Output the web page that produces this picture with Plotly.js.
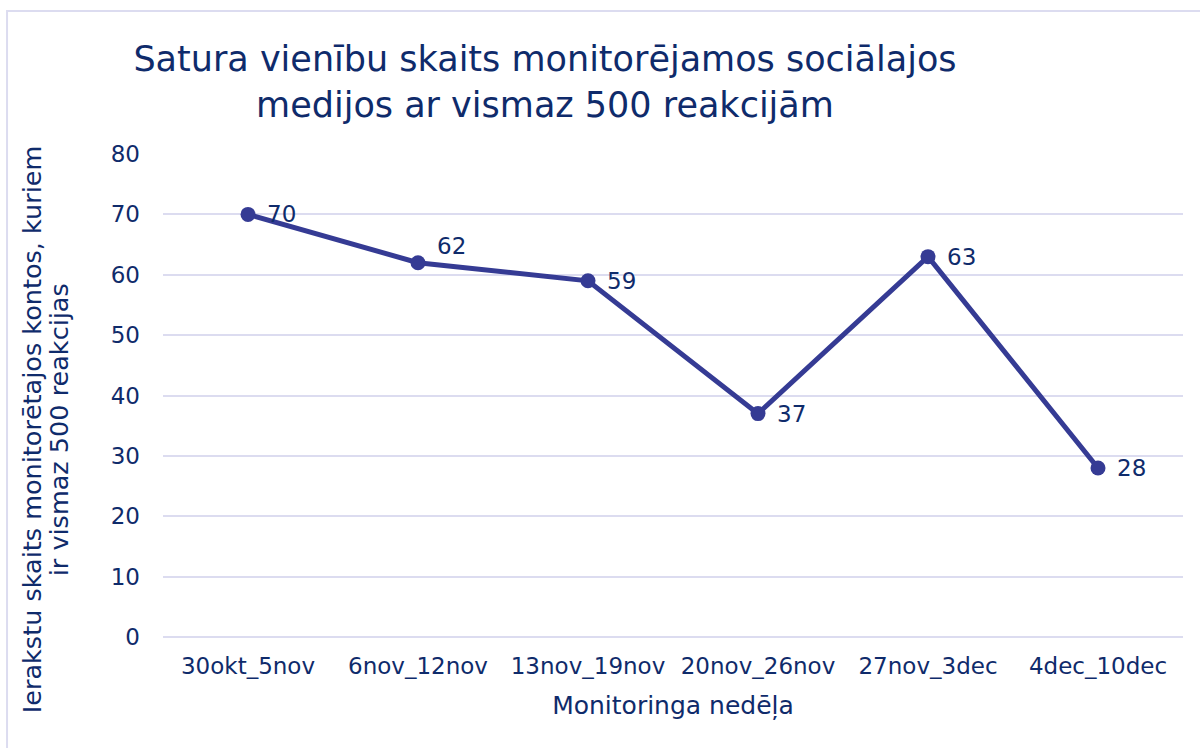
<!DOCTYPE html>
<html>
<head>
<meta charset="utf-8">
<script src="https://cdn.plot.ly/plotly-3.0.1.min.js"></script>
<style>
  body { margin: 0; background: #fff; }
  #chart { width: 1200px; height: 748px; }
</style>
</head>
<body>
<div id="chart"></div>
<script>
// ── Data ──
const weeks = ["30okt_5nov", "6nov_12nov", "13nov_19nov", "20nov_26nov", "27nov_3dec", "4dec_10dec"];
const counts = [70, 62, 59, 37, 63, 28];
const labelLift = [0, 17, 0, 0, 0, 0];   // only "62" sits above its point
const yTitleLines = ["Ierakstu skaits monitorētajos kontos, kuriem", "ir vismaz 500 reakcijas"];

const navy = "#0f2b6b";
const lineColor = "#353b94";
const gridColor = "#dcdcf0";
const font = "DejaVu Sans, sans-serif";

const trace = {
    x: weeks,
    y: counts,
    type: "scatter",
    mode: "lines+markers",
    line: { color: lineColor, width: 5 },
    marker: { color: lineColor, size: 15 },
    cliponaxis: false,
    hoverinfo: "none"
};

// value labels right of each point
const valueLabels = weeks.map((w, i) => ({
    x: w, y: counts[i],
    xref: "x", yref: "y",
    text: String(counts[i]),
    showarrow: false,
    xanchor: "left", yanchor: "middle",
    xshift: 17, yshift: labelLift[i],
    font: { family: font, size: 23, color: navy }
}));

// y title as two rotated lines, set a bit tighter than Plotly's line spacing
const yTitle = yTitleLines.map((t, i) => ({
    text: t,
    textangle: -90,
    xref: "paper", yref: "paper",
    x: [-0.129, -0.1025][i], y: 0.429,
    xanchor: "center", yanchor: "middle",
    showarrow: false,
    font: { family: font, size: 25.5, color: navy }
}));

const layout = {
    width: 1200,
    height: 748,
    margin: { l: 163, r: 17, t: 154, b: 111 },
    paper_bgcolor: "#fff",
    plot_bgcolor: "#fff",
    showlegend: false,
    font: { family: font, color: navy },
    title: {
        text: "Satura vienību skaits monitorējamos sociālajos<br>medijos ar vismaz 500 reakcijām",
        font: { family: font, size: 35, color: navy },
        xref: "paper", x: 0.3745, xanchor: "center",
        yref: "container", y: 0.905, yanchor: "top"
    },
    xaxis: {
        type: "category",
        range: [-0.5, 5.5],
        showgrid: false,
        showline: false,
        zeroline: false,
        tickfont: { size: 23, color: navy },
        ticklabelstandoff: 13,
        title: { text: "Monitoringa nedēļa", font: { size: 25, color: navy }, standoff: 18 }
    },
    yaxis: {
        range: [0, 80],
        dtick: 10,
        showgrid: true,
        gridcolor: gridColor,
        gridwidth: 2,
        zeroline: true,
        zerolinecolor: gridColor,
        zerolinewidth: 2,
        showline: false,
        tickfont: { size: 23, color: navy },
        ticklabelstandoff: 22
    },
    annotations: yTitle.concat(valueLabels),
    shapes: [{
        type: "rect",
        xref: "paper", yref: "paper",
        x0: -0.1529, x1: 1.2, y0: -0.5, y1: 1.296,
        line: { color: gridColor, width: 2 },
        layer: "below"
    }]
};

Plotly.newPlot("chart", [trace], layout, { displayModeBar: false, staticPlot: true });
</script>
</body>
</html>
